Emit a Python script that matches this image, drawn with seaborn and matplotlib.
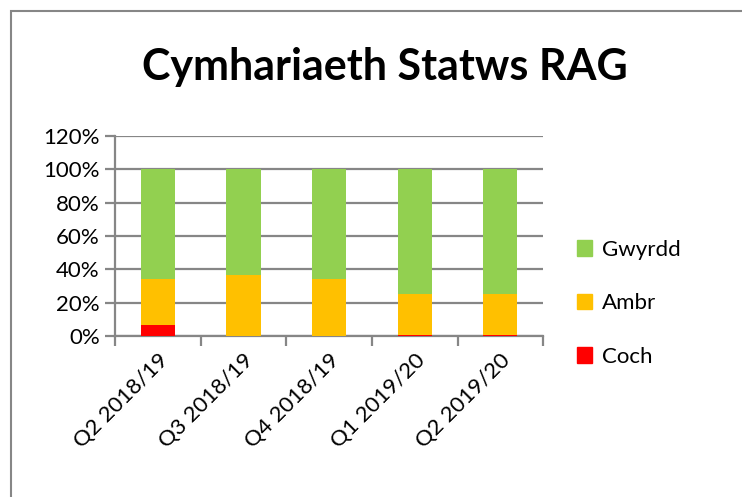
import matplotlib
matplotlib.use("Agg")
import matplotlib.pyplot as plt
import seaborn as sns
import numpy as np
from matplotlib.patches import Patch, Rectangle
from matplotlib.ticker import PercentFormatter, FixedLocator

# data (percent of measures)
quarters = ["Q2 2018/19", "Q3 2018/19", "Q4 2018/19", "Q1 2019/20", "Q2 2019/20"]
coch = [6.5, 0.0, 0.0, 0.5, 0.5]
ambr = [28.0, 36.5, 34.5, 25.0, 25.0]
gwyrdd = [65.5, 63.5, 65.5, 74.5, 74.5]

sns.set_theme(style="white")
plt.rcParams["font.family"] = ["Lato", "DejaVu Sans"]
plt.rcParams["text.color"] = "black"
plt.rcParams["xtick.color"] = "black"
plt.rcParams["ytick.color"] = "black"

green = "#92D050"
amber = "#FFC000"
red = "#FF0000"
grey = "#868686"

fig = plt.figure(figsize=(7.42, 4.97), dpi=100)
ax = fig.add_axes([0.155, 0.324, 0.577, 0.402])

top = np.array(coch) + np.array(ambr) + np.array(gwyrdd)
mid = np.array(coch) + np.array(ambr)

for vals, col in [(top, green), (mid, amber), (coch, red)]:
    sns.barplot(x=quarters, y=vals, color=col, width=0.4, saturation=1,
                linewidth=0, ax=ax, zorder=3)

ax.set_ylim(0, 120)
ax.set_xlim(-0.5, 4.5)
ax.set_yticks(range(0, 121, 20))
ax.yaxis.set_major_formatter(PercentFormatter(decimals=0))
ax.grid(axis="y", color=grey, linewidth=1.6, zorder=0)
ax.set_axisbelow(True)

for s in ["top", "right"]:
    ax.spines[s].set_visible(False)
for s in ["left", "bottom"]:
    ax.spines[s].set_color(grey)
    ax.spines[s].set_linewidth(1.6)

ax.tick_params(axis="y", length=7, width=1.6, color=grey, labelsize=16,
               labelcolor="black", pad=4, left=True)
ax.xaxis.set_minor_locator(FixedLocator(np.arange(-0.5, 5, 1)))
ax.tick_params(axis="x", which="minor", length=7, width=1.6, color=grey, bottom=True)
ax.tick_params(axis="x", which="major", length=0, labelsize=16,
               labelcolor="black", pad=10)
plt.setp(ax.get_xticklabels(), rotation=45, ha="right", rotation_mode="anchor")
ax.set_xlabel("")
ax.set_ylabel("")

fig.text(0.519, 0.866, "Cymhariaeth Statws RAG", ha="center", va="center",
         fontsize=31, fontweight="bold", color="black")

handles = [Patch(color=green, label="Gwyrdd"),
           Patch(color=amber, label="Ambr"),
           Patch(color=red, label="Coch")]
fig.legend(handles=handles, loc="center left", bbox_to_anchor=(0.75, 0.39),
           frameon=False, fontsize=16, handlelength=0.7, handleheight=0.7,
           handletextpad=0.45, labelspacing=1.5)

fig.patches.append(Rectangle((11 / 742, -0.1), 1.2, 1 - 11 / 497 + 0.1,
                             transform=fig.transFigure, fill=False,
                             edgecolor=grey, linewidth=1.5))

fig.savefig("out.png", dpi=100)
